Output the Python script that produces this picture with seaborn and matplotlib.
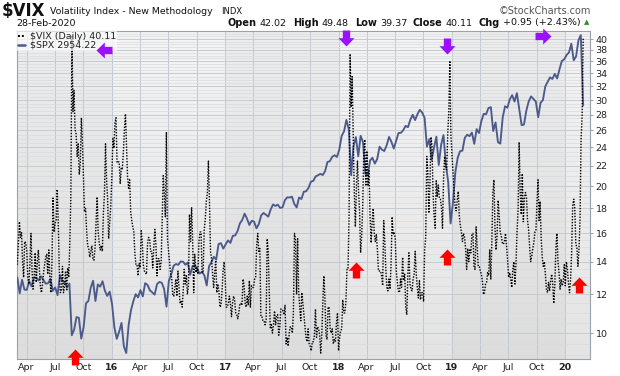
import numpy as np
import pandas as pd
import matplotlib
matplotlib.use("Agg")
import matplotlib.pyplot as plt
import matplotlib.dates as mdates
from matplotlib.path import Path
from matplotlib.lines import Line2D
from matplotlib.ticker import FixedLocator, NullLocator, FixedFormatter, NullFormatter
from matplotlib.colors import LinearSegmentedColormap
import matplotlib.transforms as mtransforms
import seaborn as sns

sns.set_theme(style="white")
plt.rcParams["font.family"] = ["DejaVu Sans"]

# ---------------- data ----------------
# $VIX, about 9 readings per month, Mar-2015 .. Feb-2020
vix_2015 = [
    13.8, 15.3, 16.9, 15.7, 16.1, 14.0, 13.0, 15.4, 15.3,
    14.7, 13.0, 12.6, 13.9, 16.0, 13.5, 12.3, 13.0, 14.6,
    12.7, 13.9, 14.8, 13.5, 12.4, 12.1, 12.6, 13.3, 13.8,
    14.3, 14.5, 13.2, 14.8, 13.0, 12.1, 14.0, 18.9, 16.1,
    16.8, 17.0, 19.7, 16.8, 13.4, 12.1, 12.2, 13.7, 12.1,
    12.5, 13.4, 12.2, 13.6, 13.0, 15.3, 19.1, 40.7, 28.4,
    31.4, 26.1, 25.6, 23.0, 24.4, 21.1, 22.3, 27.6, 24.5,
    20.9, 17.7, 18.0, 16.2, 15.1, 14.9, 14.3, 14.7, 15.1,
    14.2, 14.1, 14.9, 16.9, 19.0, 16.1, 15.3, 14.8, 15.1,
    14.7, 17.6, 19.3, 24.4, 20.6, 18.9, 15.6, 16.9, 18.2,
]
vix_2016 = [
    20.7, 25.0, 23.9, 27.0, 27.6, 22.3, 22.4, 22.4, 20.2,
    21.8, 21.7, 23.4, 26.1, 28.1, 24.1, 20.9, 19.8, 20.6,
    17.7, 17.0, 16.5, 16.1, 14.5, 13.8, 13.8, 13.1, 13.9,
    13.6, 16.2, 15.4, 13.8, 13.4, 13.3, 13.2, 15.2, 15.7,
    15.6, 14.7, 14.7, 13.6, 15.0, 16.3, 15.2, 13.1, 14.2,
    14.2, 13.5, 14.0, 17.0, 21.0, 19.4, 17.3, 25.8, 15.6,
    14.8, 14.0, 13.2, 13.0, 12.0, 11.9, 12.4, 12.9, 11.9,
    13.4, 12.4, 11.5, 11.6, 11.3, 12.2, 13.5, 12.6, 13.1,
    12.0, 12.5, 17.5, 15.4, 18.1, 15.5, 12.1, 14.5, 13.3,
    13.6, 13.2, 15.4, 16.1, 16.1, 13.3, 13.3, 16.2, 17.1,
    18.6, 19.3, 22.5, 18.7, 14.7, 14.2, 13.3, 12.4, 13.3,
    14.1, 12.1, 12.6, 12.2, 11.3, 11.4, 12.2, 13.4, 14.0,
]
vix_2017 = [
    12.9, 11.3, 11.3, 11.5, 11.9, 11.5, 10.8, 11.5, 11.9,
    11.7, 11.0, 10.9, 10.7, 11.0, 11.5, 11.5, 11.4, 12.9,
    12.5, 11.5, 11.3, 11.9, 11.4, 12.8, 11.3, 12.5, 12.4,
    12.4, 12.9, 13.0, 15.1, 16.0, 14.7, 14.9, 10.8, 10.8,
    10.6, 10.6, 10.4, 10.6, 15.6, 14.7, 12.1, 10.2, 10.4,
    10.0, 10.4, 11.1, 10.4, 10.9, 10.9, 9.9, 10.3, 11.2,
    11.2, 11.1, 10.9, 11.4, 9.5, 9.8, 9.4, 10.0, 10.3,
    10.3, 10.0, 11.1, 16.0, 15.5, 12.0, 15.6, 12.2, 11.3,
    10.6, 12.1, 11.5, 10.9, 10.3, 9.8, 9.6, 10.2, 9.5,
    9.4, 9.2, 9.6, 9.6, 9.9, 11.2, 9.8, 10.3, 10.2,
    9.9, 9.1, 9.9, 11.5, 13.1, 11.8, 9.9, 9.7, 11.3,
    11.3, 10.2, 10.0, 10.2, 9.5, 9.7, 9.6, 10.5, 11.0,
]
vix_2018 = [
    9.2, 9.8, 10.1, 10.2, 11.7, 11.0, 11.0, 11.6, 13.5,
    13.5, 17.3, 37.3, 29.0, 33.5, 25.0, 19.3, 16.5, 19.9,
    22.5, 19.6, 17.8, 14.6, 15.8, 18.2, 23.3, 24.9, 20.0,
    23.6, 20.0, 21.5, 17.4, 15.3, 16.9, 18.0, 16.0, 15.4,
    15.9, 14.8, 13.4, 13.4, 13.4, 13.1, 12.5, 17.0, 15.4,
    13.5, 12.4, 12.2, 12.9, 12.3, 13.8, 17.3, 15.9, 16.1,
    15.6, 13.4, 12.7, 12.2, 12.1, 12.9, 12.4, 14.3, 12.8,
    13.2, 11.3, 10.9, 13.2, 14.6, 12.6, 12.3, 12.2, 12.9,
    13.2, 14.7, 13.2, 12.4, 11.8, 12.8, 11.7, 12.1, 12.1,
    11.6, 14.8, 15.7, 23.0, 21.3, 17.6, 20.1, 25.2, 24.2,
    19.3, 17.4, 16.4, 20.5, 19.0, 20.1, 18.9, 18.8, 18.1,
    16.4, 20.7, 23.0, 21.8, 21.6, 25.6, 28.4, 36.1, 25.4,
]
vix_2019 = [
    23.2, 21.4, 19.5, 18.2, 17.8, 18.6, 19.5, 17.4, 16.6,
    16.1, 15.4, 16.0, 15.7, 14.9, 13.5, 14.9, 14.0, 14.8,
    14.6, 15.9, 16.0, 13.7, 13.5, 16.5, 15.0, 13.7, 13.7,
    13.4, 13.2, 12.8, 12.0, 12.1, 12.6, 12.7, 13.3, 13.1,
    14.8, 12.9, 15.4, 19.4, 20.6, 16.4, 14.8, 15.9, 18.7,
    17.3, 16.1, 15.8, 15.3, 15.2, 15.4, 16.0, 15.1, 14.1,
    13.0, 13.3, 12.9, 12.4, 13.5, 14.0, 12.6, 13.9, 16.1,
    17.9, 24.6, 19.5, 17.5, 21.2, 16.9, 18.9, 19.4, 18.9,
    17.0, 16.3, 15.0, 14.0, 14.4, 14.9, 15.3, 16.1, 16.2,
    18.6, 20.6, 17.0, 18.6, 15.6, 14.3, 13.7, 14.0, 13.2,
    12.3, 12.1, 12.7, 12.2, 12.8, 13.2, 12.6, 11.5, 12.6,
    14.9, 16.0, 14.0, 13.3, 12.3, 12.9, 12.5, 12.7, 13.8,
]
vix_2020 = [
    12.5, 14.0, 13.5, 12.6, 12.1, 12.9, 14.6, 18.2, 18.8,
    18.0, 15.2, 15.0, 13.7, 14.8, 17.1, 25.0, 27.9, 40.1,
]

# $SPX, about 4 readings per month, Mar-2015 .. Feb-2020
spx_2015 = [
    2117, 2053, 2108, 2068,  2067, 2102, 2081, 2117,  2116, 2105, 2122, 2107,
    2092, 2094, 2110, 2063,  2077, 2046, 2127, 2103,  2098, 2078, 2092, 1893,
    1914, 1961, 1958, 1881,  1923, 2014, 2023, 2075,  2104, 2023, 2089, 2080,
    2102, 2063, 2043, 2060,
]
spx_2016 = [
    2012, 1922, 1880, 1906,  1939, 1853, 1829, 1930,  1987, 2022, 2050, 2037,
    2066, 2041, 2094, 2087,  2065, 2057, 2048, 2090,  2099, 2096, 2071, 2001,
    2103, 2130, 2166, 2173,  2170, 2184, 2183, 2170,  2180, 2128, 2164, 2168,
    2153, 2133, 2141, 2126,  2085, 2164, 2182, 2204,  2192, 2259, 2263, 2239,
]
spx_2017 = [
    2258, 2275, 2264, 2295,  2297, 2316, 2351, 2367,  2396, 2373, 2344, 2363,
    2359, 2329, 2348, 2388,  2399, 2391, 2382, 2415,  2439, 2432, 2438, 2423,
    2425, 2459, 2473, 2472,  2476, 2441, 2425, 2472,  2465, 2500, 2502, 2519,
    2549, 2553, 2575, 2581,  2588, 2582, 2602, 2648,  2652, 2675, 2683, 2674,
]
spx_2018 = [
    2713, 2786, 2810, 2873,  2822, 2581, 2731, 2779,  2677, 2786, 2752, 2588,
    2582, 2656, 2670, 2640,  2663, 2728, 2712, 2705,  2735, 2780, 2754, 2718,
    2760, 2801, 2802, 2816,  2840, 2833, 2874, 2902,  2872, 2905, 2930, 2914,
    2885, 2728, 2768, 2658,  2723, 2781, 2633, 2738,  2790, 2637, 2546, 2351,
]
spx_2019 = [
    2448, 2596, 2670, 2704,  2707, 2775, 2792, 2784,  2803, 2743, 2822, 2801,
    2867, 2907, 2905, 2940,  2945, 2812, 2859, 2752,  2744, 2886, 2950, 2942,
    2990, 3014, 2977, 3026,  2932, 2844, 2848, 2926,  2978, 3007, 2992, 2977,
    2888, 2970, 2986, 3066,  3093, 3120, 3110, 3141,  3113, 3169, 3221, 3231,
]
spx_2020 = [3258, 3274, 3330, 3225,  3249, 3352, 3386, 2954]

vix = vix_2015 + vix_2016 + vix_2017 + vix_2018 + vix_2019 + vix_2020
spx = spx_2015 + spx_2016 + spx_2017 + spx_2018 + spx_2019 + spx_2020
first_day, last_day = "2015-03-02", "2020-02-28"

vix_ticks = [10, 12, 14, 16, 18, 20, 22, 24, 26, 28, 30, 32, 34, 36, 38, 40]
month_names = {1: None, 4: "Apr", 7: "Jul", 10: "Oct"}

legend_labels = ["$VIX (Daily) 40.11", "$SPX 2954.22"]
ohlc = [("Open", "42.02"), ("High", "49.48"), ("Low", "39.37"),
        ("Close", "40.11"), ("Chg", "+0.95 (+2.43%)")]

# annotation arrows (date, VIX level, direction, colour)
arrow_dates = ["2015-12-08", "2018-01-26", "2018-12-16", "2019-10-22",
               "2015-09-05", "2018-02-27", "2018-12-16", "2020-02-16"]
arrow_vals = [37.9, 40.1, 38.7, 40.6, 8.92, 13.48, 14.33, 12.53]
arrow_dirs = ["left", "down", "down", "right", "up", "up", "up", "up"]
arrow_cols = ["#9a10ff"] * 4 + ["#ff0000"] * 4

df_vix = pd.DataFrame({"date": pd.date_range(first_day, last_day, periods=len(vix)),
                       "vix": vix})
df_spx = pd.DataFrame({"date": pd.date_range(first_day, last_day, periods=len(spx)),
                       "spx": spx})

# ---------------- figure ----------------
W, H = 620, 376
fig = plt.figure(figsize=(W / 100, H / 100), dpi=100)
fig.patch.set_facecolor("white")
L, R, T, B = 16.7, 590, 31, 359
rect = [L / W, 1 - B / H, (R - L) / W, (B - T) / H]

VIX_LIM = (8.85, 41.54)
SPX_LIM = (1808, 3413)
XLO, XHI = pd.Timestamp("2015-02-28"), pd.Timestamp("2020-03-21")

# background gradient
bg = fig.add_axes(rect)
cmap = LinearSegmentedColormap.from_list("bg", ["#f4f4f4", "#e4e4e4"])
bg.imshow(np.linspace(0, 1, 256)[:, None], extent=(0, 1, 0, 1), aspect="auto",
          cmap=cmap, origin="upper")
bg.set_xlim(0, 1); bg.set_ylim(0, 1)
bg.set_axis_off()

# grid / tick axes
ax = fig.add_axes(rect)
ax.set_facecolor("none")
ax.set_yscale("log")
ax.set_ylim(*VIX_LIM)
ax.set_xlim(XLO, XHI)
for yr in (2015, 2017, 2019):
    a = max(XLO, pd.Timestamp(f"{yr}-01-01"))
    b = pd.Timestamp(f"{yr + 1}-01-01")
    ax.axvspan(a, b, color="black", alpha=0.028, lw=0, zorder=0)

ax.yaxis.set_major_locator(FixedLocator(vix_ticks))
ax.yaxis.set_major_formatter(FixedFormatter([str(t) for t in vix_ticks]))
minor_grid = [v for v in np.arange(9.0, 41.5, 0.5) if v not in vix_ticks]
ax.yaxis.set_minor_locator(FixedLocator(minor_grid))
ax.yaxis.set_minor_formatter(NullFormatter())
ax.grid(True, which="major", axis="y", color="#c6cbd3", lw=0.7)
ax.grid(True, which="minor", axis="y", color="#d8dbe0", lw=0.5)

qticks = pd.date_range("2015-04-01", "2020-01-01", freq="QS")
qlabels = [f"{d.year % 100:02d}" if d.month == 1 else month_names[d.month] for d in qticks]
ax.set_xticks(mdates.date2num(qticks))
ax.set_xticklabels(qlabels)
for lab, d in zip(ax.get_xticklabels(), qticks):
    if d.month == 1:
        lab.set_fontweight("bold")
ax.grid(True, which="major", axis="x", color="#c3c8d0", lw=0.7)
ax.set_axisbelow(True)

# SPX axes
ax_s = ax.twinx()
sns.lineplot(data=df_spx, x="date", y="spx", ax=ax_s, color="#4b5a8a",
             linewidth=1.35, estimator=None)
ax_s.set_yscale("log")
ax_s.set_ylim(*SPX_LIM)
ax_s.yaxis.set_major_locator(NullLocator())
ax_s.yaxis.set_minor_locator(NullLocator())
ax_s.set_xlabel(""); ax_s.set_ylabel("")

# VIX axes
ax_t = ax.twinx()
sns.lineplot(data=df_vix, x="date", y="vix", ax=ax_t, color="black",
             linewidth=1.0, linestyle=(0, (1, 1.1)), estimator=None)
ax_t.set_yscale("log")
ax_t.set_ylim(*VIX_LIM)
ax_t.yaxis.set_major_locator(NullLocator())
ax_t.yaxis.set_minor_locator(NullLocator())
ax_t.set_xlabel(""); ax_t.set_ylabel("")

for a_ in (ax_s, ax_t):
    a_.set_xlim(XLO, XHI)
    for sp in a_.spines.values():
        sp.set_visible(False)

# ticks of the main axes on the right
ax.yaxis.tick_right()
ax.yaxis.set_label_position("right")
ax.tick_params(axis="y", which="major", length=2.5, width=0.6, pad=1.5,
               labelsize=6.8, colors="#222222", color="#8c949e")
ax.tick_params(axis="y", which="minor", length=0)
ax.tick_params(axis="x", which="major", length=0, pad=3.2, labelsize=6.8,
               colors="#222222")
ax.set_xlabel(""); ax.set_ylabel("")
for sp in ax.spines.values():
    sp.set_visible(True)
    sp.set_color("#9aa1ab")
    sp.set_linewidth(0.8)

# legend
handles = [Line2D([], [], color="black", lw=1.4, linestyle=(0, (1, 1))),
           Line2D([], [], color="#4b5a8a", lw=1.8)]
leg = ax_t.legend(handles, legend_labels, loc="upper left", bbox_to_anchor=(0, 1),
                  borderaxespad=0, fontsize=6.8, handlelength=0.8, handletextpad=0.5,
                  borderpad=0.1, labelspacing=0.0, fancybox=False, frameon=True)
leg.get_frame().set_facecolor("white")
leg.get_frame().set_alpha(0.65)
leg.get_frame().set_linewidth(0)
for t in leg.get_texts():
    t.set_color("#222222")

# arrows
base = Path([(-0.23, 0.5), (0.23, 0.5), (0.23, 0.02), (0.5, 0.02), (0.0, -0.5),
             (-0.5, 0.02), (-0.23, 0.02), (-0.23, 0.5)], closed=True)
rot = {"down": 0, "up": 180, "left": -90, "right": 90}
for d, v, dr, c in zip(arrow_dates, arrow_vals, arrow_dirs, arrow_cols):
    p = mtransforms.Affine2D().rotate_deg(rot[dr]).transform_path(base)
    ax_t.plot([pd.Timestamp(d)], [v], marker=p, markersize=11.5, color=c,
              markeredgewidth=0, linestyle="none", clip_on=False, zorder=10)

# header texts
def ftext(x, y, s, **kw):
    return fig.text(x / W, 1 - y / H, s, va="center", **kw)

ftext(2, 11, "$VIX", fontsize=12, fontweight="bold", color="#111111")
ftext(50, 11.5, "Volatility Index - New Methodology", fontsize=6.75, color="#111111")
ftext(221, 12, "INDX", fontsize=6, color="#111111")
ftext(591.5, 11.5, "\u00a9StockCharts.com", ha="right", fontsize=7, color="#555555")
ftext(16, 23, "28-Feb-2020", fontsize=6.8, color="#111111")

renderer = fig.canvas.get_renderer()
xcur = 581.0
pieces = []
for lab, val in ohlc:
    pieces.append((lab, "bold"))
    pieces.append((val, "normal"))
for i, (s, w) in enumerate(reversed(pieces)):
    t = ftext(xcur, 23, s, ha="right", fontsize=7.0 if w == "bold" else 6.8,
              fontweight=w, color="#111111")
    wpx = t.get_window_extent(renderer).width
    gap = 3.2 if w == "normal" else 6.0
    xcur -= wpx + gap
ftext(587, 22.5, "\u25b2", ha="center", fontsize=5, color="#2e8b2e")

fig.savefig("out.png", dpi=100)
